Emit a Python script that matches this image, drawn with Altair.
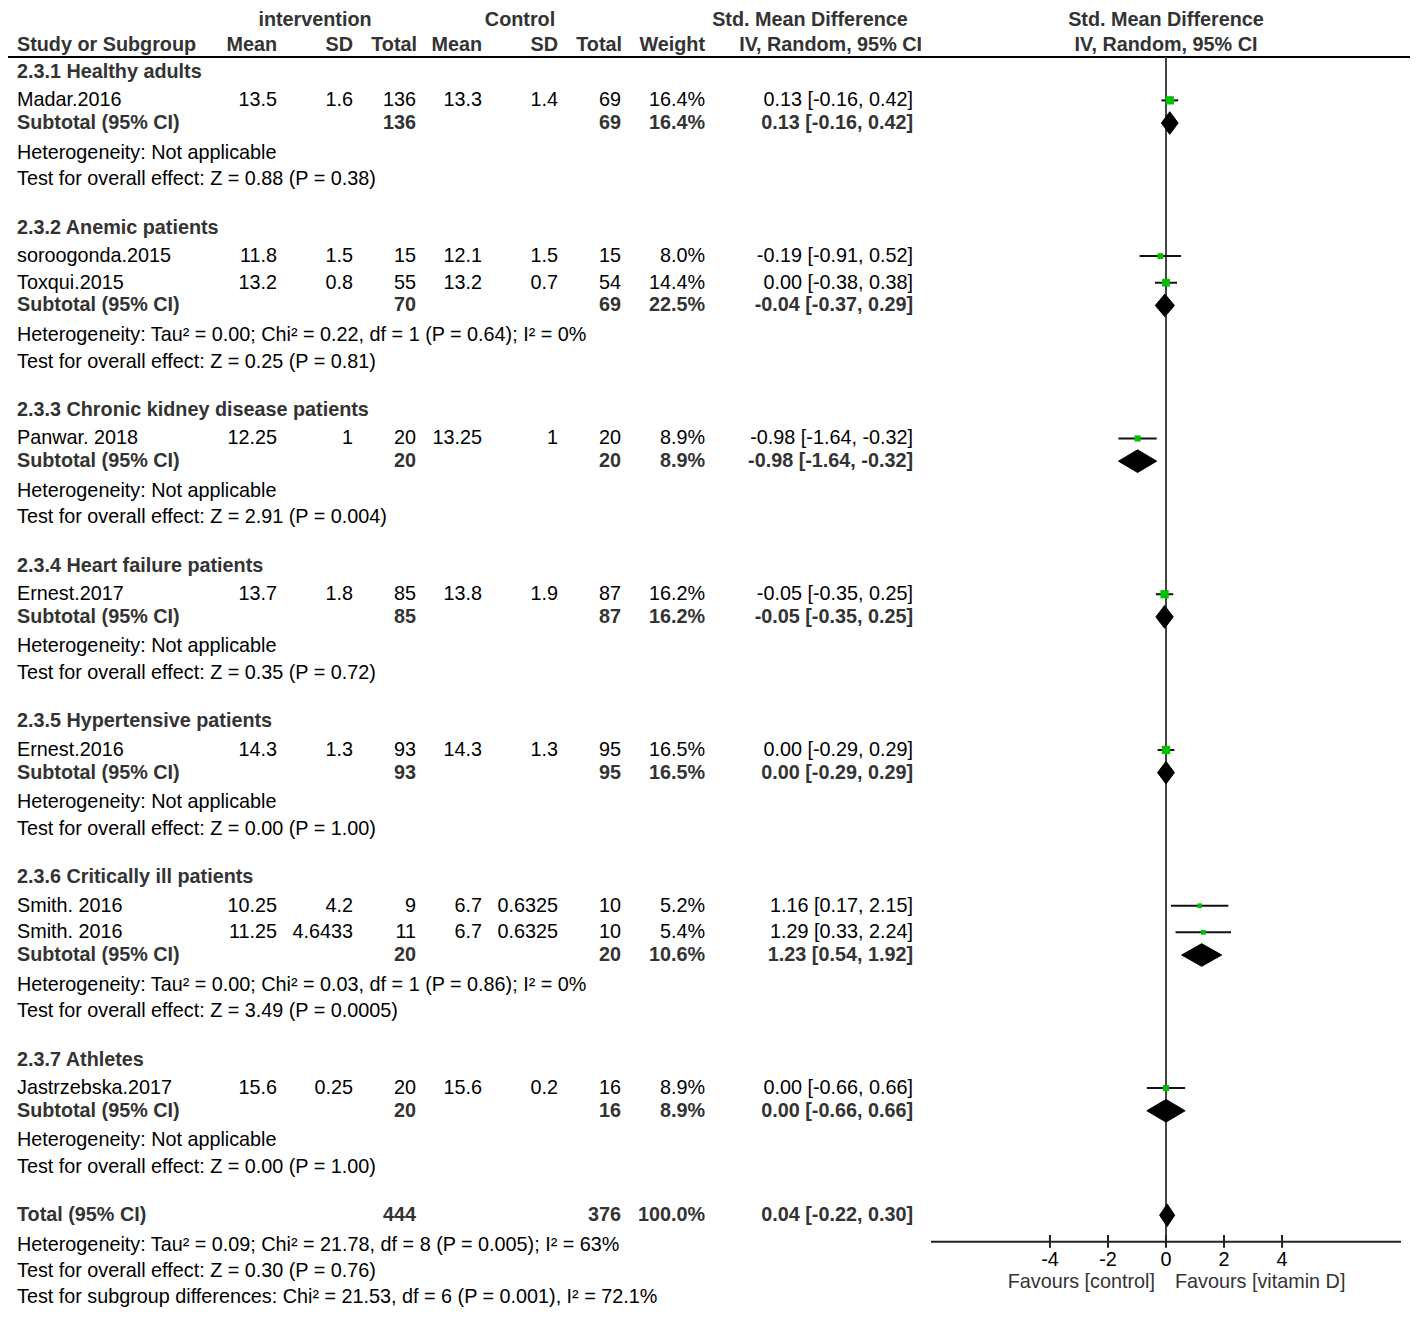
import math
import altair as alt
import pandas as pd

# ---------------- data ----------------
group_titles = ["2.3.1 Healthy adults", "2.3.2 Anemic patients",
                "2.3.3 Chronic kidney disease patients", "2.3.4 Heart failure patients",
                "2.3.5 Hypertensive patients", "2.3.6 Critically ill patients", "2.3.7 Athletes"]
study_names = ["Madar.2016", "soroogonda.2015", "Toxqui.2015", "Panwar. 2018", "Ernest.2017",
               "Ernest.2016", "Smith. 2016", "Smith. 2016", "Jastrzebska.2017"]
study_group = [0, 1, 1, 2, 3, 4, 5, 5, 6]
int_mean = ["13.5", "11.8", "13.2", "12.25", "13.7", "14.3", "10.25", "11.25", "15.6"]
int_sd = ["1.6", "1.5", "0.8", "1", "1.8", "1.3", "4.2", "4.6433", "0.25"]
int_n = [136, 15, 55, 20, 85, 93, 9, 11, 20]
ctl_mean = ["13.3", "12.1", "13.2", "13.25", "13.8", "14.3", "6.7", "6.7", "15.6"]
ctl_sd = ["1.4", "1.5", "0.7", "1", "1.9", "1.3", "0.6325", "0.6325", "0.2"]
ctl_n = [69, 15, 54, 20, 87, 95, 10, 10, 16]
study_weight = [16.4, 8.0, 14.4, 8.9, 16.2, 16.5, 5.2, 5.4, 8.9]
study_smd = [0.13, -0.19, 0.00, -0.98, -0.05, 0.00, 1.16, 1.29, 0.00]
study_lo = [-0.16, -0.91, -0.38, -1.64, -0.35, -0.29, 0.17, 0.33, -0.66]
study_hi = [0.42, 0.52, 0.38, -0.32, 0.25, 0.29, 2.15, 2.24, 0.66]

sub_int_n = [136, 70, 20, 85, 93, 20, 20]
sub_ctl_n = [69, 69, 20, 87, 95, 20, 16]
sub_weight = [16.4, 22.5, 8.9, 16.2, 16.5, 10.6, 8.9]
sub_smd = [0.13, -0.04, -0.98, -0.05, 0.00, 1.23, 0.00]
sub_lo = [-0.16, -0.37, -1.64, -0.35, -0.29, 0.54, -0.66]
sub_hi = [0.42, 0.29, -0.32, 0.25, 0.29, 1.92, 0.66]
sub_het = ["Heterogeneity: Not applicable",
           "Heterogeneity: Tau² = 0.00; Chi² = 0.22, df = 1 (P = 0.64); I² = 0%",
           "Heterogeneity: Not applicable",
           "Heterogeneity: Not applicable",
           "Heterogeneity: Not applicable",
           "Heterogeneity: Tau² = 0.00; Chi² = 0.03, df = 1 (P = 0.86); I² = 0%",
           "Heterogeneity: Not applicable"]
sub_test = ["Test for overall effect: Z = 0.88 (P = 0.38)",
            "Test for overall effect: Z = 0.25 (P = 0.81)",
            "Test for overall effect: Z = 2.91 (P = 0.004)",
            "Test for overall effect: Z = 0.35 (P = 0.72)",
            "Test for overall effect: Z = 0.00 (P = 1.00)",
            "Test for overall effect: Z = 3.49 (P = 0.0005)",
            "Test for overall effect: Z = 0.00 (P = 1.00)"]

total_int_n = 444
total_ctl_n = 376
total_weight = 100.0
total_smd = 0.04
total_lo = -0.22
total_hi = 0.30
total_het = "Heterogeneity: Tau² = 0.09; Chi² = 21.78, df = 8 (P = 0.005); I² = 63%"
total_test = "Test for overall effect: Z = 0.30 (P = 0.76)"
subgroup_test = "Test for subgroup differences: Chi² = 21.53, df = 6 (P = 0.001), I² = 72.1%"

tick_values = [-4, -2, 0, 2, 4]
tick_labels = ["-4", "-2", "0", "2", "4"]
favours_left = "Favours [control]"
favours_right = "Favours [vitamin D]"

# ---------------- layout ----------------
W, H = 1402, 1301
FONT = "Liberation Sans"
FS = 19.8
GRAY = "#333333"
COL = dict(name=9, im=269, isd=345, itot=408, cm=474, csd=550, ctot=613, wt=697, ci=905)

texts = []


def add(text, x, y, align="right", bold=False, color="#000000"):
    texts.append(dict(text=text, x=x, y=y, anchor=align, bold=bold, color=color))


def ci_text(e, l, h):
    return f"{e:.2f} [{l:.2f}, {h:.2f}]"


# headers (row units follow the reference's line positions)
R1, R2 = 8, 34
add("intervention", 307, R1, "center", True, GRAY)
add("Control", 512, R1, "center", True, GRAY)
add("Std. Mean Difference", 802, R1, "center", True, GRAY)
add("Study or Subgroup", COL["name"], R2, "left", True, GRAY)
add("Mean", 269, R2, "right", True, GRAY)
add("SD", 345, R2, "right", True, GRAY)
add("Total", 409, R2, "right", True, GRAY)
add("Mean", 474, R2, "right", True, GRAY)
add("SD", 550, R2, "right", True, GRAY)
add("Total", 614, R2, "right", True, GRAY)
add("Weight", 697, R2, "right", True, GRAY)
add("IV, Random, 95% CI", 914, R2, "right", True, GRAY)

study_rows = []
sub_rows = []
y = 61.0
for g, title in enumerate(group_titles):
    if g > 0:
        y += 49
    add(title, COL["name"], y, "left", True, GRAY)
    first = True
    for i, sg in enumerate(study_group):
        if sg != g:
            continue
        y += 29 if first else 27
        first = False
        add(study_names[i], COL["name"], y, "left")
        add(int_mean[i], COL["im"], y)
        add(int_sd[i], COL["isd"], y)
        add(str(int_n[i]), COL["itot"], y)
        add(ctl_mean[i], COL["cm"], y)
        add(ctl_sd[i], COL["csd"], y)
        add(str(ctl_n[i]), COL["ctot"], y)
        add(f"{study_weight[i]:.1f}%", COL["wt"], y)
        add(ci_text(study_smd[i], study_lo[i], study_hi[i]), COL["ci"], y)
        study_rows.append(dict(est=study_smd[i], lo=study_lo[i], hi=study_hi[i], y=y,
                               size=(2.05 * math.sqrt(study_weight[i])) ** 2))
    y += 23
    add("Subtotal (95% CI)", COL["name"], y, "left", True, GRAY)
    add(str(sub_int_n[g]), COL["itot"], y, "right", True, GRAY)
    add(str(sub_ctl_n[g]), COL["ctot"], y, "right", True, GRAY)
    add(f"{sub_weight[g]:.1f}%", COL["wt"], y, "right", True, GRAY)
    add(ci_text(sub_smd[g], sub_lo[g], sub_hi[g]), COL["ci"], y, "right", True, GRAY)
    sub_rows.append(dict(g=g, est=sub_smd[g], lo=sub_lo[g], hi=sub_hi[g], y=y))
    y += 30
    add(sub_het[g], COL["name"], y, "left")
    y += 27
    add(sub_test[g], COL["name"], y, "left")

y += 49
add("Total (95% CI)", COL["name"], y, "left", True, GRAY)
add(str(total_int_n), COL["itot"], y, "right", True, GRAY)
add(str(total_ctl_n), COL["ctot"], y, "right", True, GRAY)
add(f"{total_weight:.1f}%", COL["wt"], y, "right", True, GRAY)
add(ci_text(total_smd, total_lo, total_hi), COL["ci"], y, "right", True, GRAY)
sub_rows.append(dict(g=99, est=total_smd, lo=total_lo, hi=total_hi, y=y))
y += 30
add(total_het, COL["name"], y, "left")
y += 27
add(total_test, COL["name"], y, "left")
y += 26
add(subgroup_test, COL["name"], y, "left")

AXIS_Y = 1248
HEADER_LINE_Y = 46
DH = 11.5  # diamond half-height

# ---------------- scales ----------------
PX = alt.Scale(domain=[0, W], range=[0, W], nice=False, zero=False)
FX = alt.Scale(domain=[-8.1, 8.1], range=[923, 1393], nice=False, zero=False)
YS = alt.Scale(domain=[-3.7, 1316.1], range=[0, H], nice=False, zero=False)

layers = []
tdf = pd.DataFrame(texts)
for anchor in ["left", "right", "center"]:
    for bold in [False, True]:
        sub = tdf[(tdf["anchor"] == anchor) & (tdf["bold"] == bold)]
        if len(sub) == 0:
            continue
        layers.append(
            alt.Chart(sub).mark_text(align=anchor, baseline="middle", font=FONT, fontSize=FS,
                                     fontWeight="bold" if bold else "normal")
            .encode(x=alt.X("x:Q", scale=PX, axis=None),
                    y=alt.Y("y:Q", scale=YS, axis=None),
                    text="text:N",
                    color=alt.Color("color:N", scale=None))
        )

# header rule
layers.append(
    alt.Chart(pd.DataFrame({"x": [0], "x2": [W + 8], "y": [HEADER_LINE_Y]}))
    .mark_rule(strokeWidth=2, color="#000000")
    .encode(x=alt.X("x:Q", scale=PX, axis=None), x2="x2:Q", y=alt.Y("y:Q", scale=YS, axis=None))
)

# right-panel headers
rh = pd.DataFrame({"x": [0, 0], "y": [R1, R2], "text": ["Std. Mean Difference", "IV, Random, 95% CI"]})
layers.append(
    alt.Chart(rh).mark_text(align="center", baseline="middle", font=FONT, fontSize=FS,
                            fontWeight="bold", color=GRAY)
    .encode(x=alt.X("x:Q", scale=FX, axis=None), y=alt.Y("y:Q", scale=YS, axis=None), text="text:N")
)

# zero line
layers.append(
    alt.Chart(pd.DataFrame({"x": [0], "y": [HEADER_LINE_Y], "y2": [AXIS_Y]}))
    .mark_rule(strokeWidth=2, color="#444444")
    .encode(x=alt.X("x:Q", scale=FX, axis=None), y=alt.Y("y:Q", scale=YS, axis=None), y2="y2:Q")
)

# axis line
layers.append(
    alt.Chart(pd.DataFrame({"x": [-8.1], "x2": [8.1], "y": [AXIS_Y]}))
    .mark_rule(strokeWidth=2, color="#222222")
    .encode(x=alt.X("x:Q", scale=FX, axis=None), x2="x2:Q", y=alt.Y("y:Q", scale=YS, axis=None))
)
ticks = pd.DataFrame({"x": tick_values, "label": tick_labels,
                      "y": [AXIS_Y - 7] * 5, "y2": [AXIS_Y + 6] * 5, "ly": [AXIS_Y + 18] * 5})
layers.append(
    alt.Chart(ticks).mark_rule(strokeWidth=2, color="#222222")
    .encode(x=alt.X("x:Q", scale=FX, axis=None), y=alt.Y("y:Q", scale=YS, axis=None), y2="y2:Q")
)
layers.append(
    alt.Chart(ticks).mark_text(baseline="middle", align="center", font=FONT, fontSize=FS, color="#000000")
    .encode(x=alt.X("x:Q", scale=FX, axis=None), y=alt.Y("ly:Q", scale=YS, axis=None), text="label:N")
)
favL = pd.DataFrame({"x": [0], "y": [AXIS_Y + 41], "text": [favours_left]})
favR = pd.DataFrame({"x": [0], "y": [AXIS_Y + 41], "text": [favours_right]})
layers.append(
    alt.Chart(favL).mark_text(align="right", baseline="middle", dx=-11,
                              font=FONT, fontSize=FS, color=GRAY)
    .encode(x=alt.X("x:Q", scale=FX, axis=None), y=alt.Y("y:Q", scale=YS, axis=None), text="text:N")
)
layers.append(
    alt.Chart(favR).mark_text(align="left", baseline="middle", dx=9,
                              font=FONT, fontSize=FS, color=GRAY)
    .encode(x=alt.X("x:Q", scale=FX, axis=None), y=alt.Y("y:Q", scale=YS, axis=None), text="text:N")
)

# study CIs and squares
sdf = pd.DataFrame(study_rows)
layers.append(
    alt.Chart(sdf).mark_rule(strokeWidth=2, color="#111111")
    .encode(x=alt.X("lo:Q", scale=FX, axis=None), x2="hi:Q", y=alt.Y("y:Q", scale=YS, axis=None))
)
layers.append(
    alt.Chart(sdf).mark_square(color="#00c000", opacity=1, filled=True)
    .encode(x=alt.X("est:Q", scale=FX, axis=None), y=alt.Y("y:Q", scale=YS, axis=None),
            size=alt.Size("size:Q", scale=None))
)

# diamonds (subtotals and total)
pts = []
for r in sub_rows:
    pts.append(dict(g=r["g"], x=r["lo"], y=r["y"], y2=r["y"]))
    pts.append(dict(g=r["g"], x=r["est"], y=r["y"] - DH, y2=r["y"] + DH))
    pts.append(dict(g=r["g"], x=r["hi"], y=r["y"], y2=r["y"]))
ddf = pd.DataFrame(pts)
layers.append(
    alt.Chart(ddf).mark_area(color="#000000", orient="vertical", opacity=1, stroke="#000000", strokeWidth=1)
    .encode(x=alt.X("x:Q", scale=FX, axis=None), y=alt.Y("y:Q", scale=YS, axis=None), y2="y2:Q",
            detail="g:N")
)

chart = (
    alt.layer(*layers)
    .resolve_scale(x="independent")
    .properties(width=W, height=H, autosize=alt.AutoSizeParams(type="none"), padding=0,
                background="white")
    .configure_view(strokeWidth=0)
)

chart.save("out.html", embed_options={"renderer": "svg", "actions": False})
